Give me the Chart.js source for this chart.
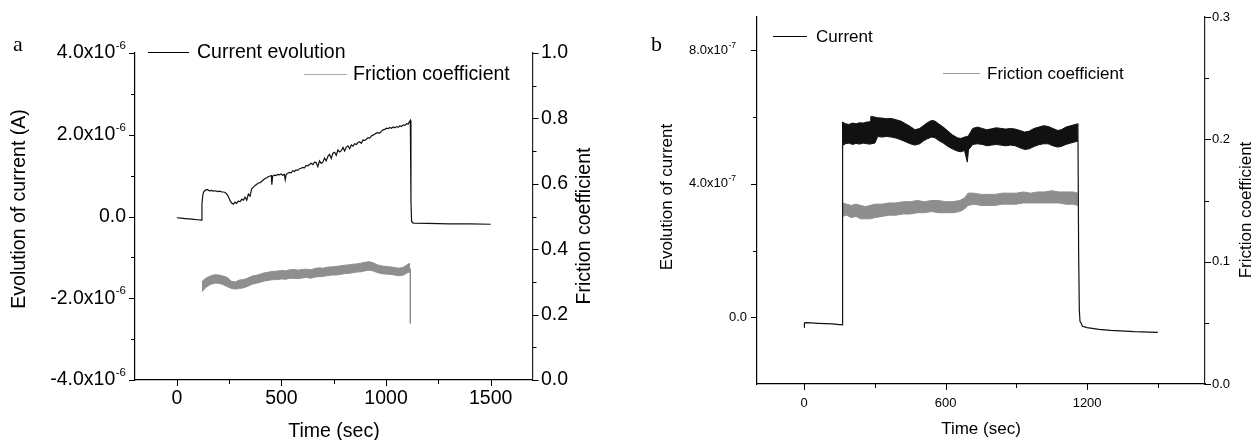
<!doctype html>
<html>
<head>
<meta charset="utf-8">
<title>Current and friction coefficient</title>
<script src="https://cdn.jsdelivr.net/npm/chart.js"></script>
<style>
  body { margin: 0; background: #fff; }
  #wrap { position: relative; width: 1255px; height: 440px; overflow: hidden; font-family: 'Liberation Sans', Arial, sans-serif; color: #000; }
  canvas { position: absolute; top: 0; }
  .tag { position: absolute; font-family: 'Liberation Serif', 'Times New Roman', serif; font-size: 22px; line-height: 1; }
  .line { position: absolute; height: 0; border-top: 1px solid #000; }
  .txt { position: absolute; line-height: 1; white-space: nowrap; transform: translateY(-50%); }
</style>
</head>
<body>
<div id="wrap">
  <canvas id="chartA" width="625" height="440" style="left:0"></canvas>
  <canvas id="chartB" width="625" height="440" style="left:630px"></canvas>

  <div class="tag" style="left:13px;top:33px">a</div>
  <div class="line" style="left:148px;top:52px;width:41px"></div>
  <div class="txt" style="left:197px;top:52px;font-size:19.5px">Current evolution</div>
  <div class="line" style="left:304px;top:74px;width:43px;border-color:#aaa"></div>
  <div class="txt" style="left:353px;top:74px;font-size:19.5px">Friction coefficient</div>

  <div class="tag" style="left:651px;top:33px">b</div>
  <div class="line" style="left:773px;top:36px;width:34px"></div>
  <div class="txt" style="left:816px;top:36px;font-size:17px">Current</div>
  <div class="line" style="left:943px;top:73px;width:37px;border-color:#999"></div>
  <div class="txt" style="left:987px;top:73px;font-size:17px">Friction coefficient</div>
</div>

<script>
// ---------- panel a data ----------
// current in microamps
const timeA = [0, 20, 40, 60, 80, 100, 118, 120, 124, 128, 135, 145, 155, 165, 175, 185, 195, 205, 215, 225,
  235, 245, 255, 262, 270, 278, 286, 294, 302, 310, 318, 326, 334, 342, 350, 358, 366, 374, 382, 390,
  398, 406, 414, 422, 430, 438, 446, 452, 454, 458, 466, 474, 482, 490, 498, 506, 514, 518, 522, 530,
  538, 546, 554, 562, 570, 578, 586, 594, 602, 610, 618, 626, 634, 642, 650, 658, 666, 674, 682, 690,
  698, 706, 714, 722, 730, 738, 746, 754, 762, 770, 778, 786, 794, 802, 810, 818, 826, 834, 842, 850,
  858, 866, 874, 882, 890, 898, 906, 914, 922, 930, 938, 946, 954, 962, 970, 978, 986, 994, 1002, 1010,
  1018, 1026, 1034, 1042, 1050, 1058, 1066, 1074, 1082, 1090, 1098, 1106, 1112, 1116, 1119, 1122, 1130, 1200,
  1300, 1400, 1500];
const currentA = [-0.03, -0.04, -0.05, -0.06, -0.07, -0.08, -0.09, 0.30, 0.52, 0.60, 0.64, 0.66, 0.63, 0.64, 0.62, 0.63, 0.61, 0.62, 0.60, 0.60,
  0.57, 0.50, 0.38, 0.33, 0.30, 0.35, 0.32, 0.38, 0.36, 0.42, 0.40, 0.47, 0.40, 0.55, 0.50, 0.68, 0.72, 0.76, 0.79, 0.82,
  0.83, 0.86, 0.90, 0.93, 0.95, 0.98, 0.99, 1.00, 0.78, 0.99, 1.01, 1.00, 1.03, 1.02, 1.04, 1.01, 1.03, 0.90, 1.02, 1.06,
  1.08, 1.07, 1.12, 1.10, 1.14, 1.13, 1.17, 1.18, 1.20, 1.19, 1.25, 1.24, 1.27, 1.30, 1.27, 1.33, 1.32, 1.22, 1.36, 1.30,
  1.33, 1.43, 1.36, 1.47, 1.52, 1.42, 1.55, 1.57, 1.50, 1.63, 1.58, 1.61, 1.69, 1.60, 1.70, 1.73, 1.66, 1.75, 1.72, 1.78,
  1.76, 1.81, 1.83, 1.79, 1.87, 1.86, 1.89, 1.93, 1.92, 1.97, 1.99, 2.02, 2.04, 2.05, 2.04, 2.09, 2.12, 2.13, 2.16, 2.15,
  2.18, 2.16, 2.19, 2.17, 2.20, 2.18, 2.22, 2.20, 2.24, 2.23, 2.27, 2.26, 2.32, 2.35, 0.40, -0.12, -0.16, -0.17,
  -0.18, -0.18, -0.19];

// friction coefficient band (upper / lower edge of the noisy trace)
const fricTimeA = [120, 126, 140, 160, 180, 200, 220, 240, 260, 280, 300, 320, 340, 360, 380, 400, 420, 440, 460, 480,
  500, 520, 540, 560, 580, 600, 620, 640, 660, 680, 700, 720, 740, 760, 780, 800, 820, 840, 860, 880,
  900, 920, 940, 960, 980, 1000, 1020, 1040, 1060, 1080, 1100, 1110, 1115];
const fricHighA = [0.300, 0.305, 0.312, 0.318, 0.322, 0.321, 0.318, 0.314, 0.302, 0.300, 0.306, 0.307, 0.312, 0.318, 0.320, 0.324, 0.328, 0.330, 0.332, 0.333,
  0.335, 0.334, 0.337, 0.338, 0.336, 0.338, 0.339, 0.337, 0.341, 0.343, 0.342, 0.345, 0.346, 0.347, 0.349, 0.351, 0.352, 0.354, 0.355, 0.357,
  0.360, 0.362, 0.358, 0.352, 0.349, 0.347, 0.346, 0.344, 0.342, 0.344, 0.352, 0.356, 0.355];
const fricLowA = [0.270, 0.274, 0.284, 0.292, 0.296, 0.296, 0.292, 0.286, 0.280, 0.278, 0.280, 0.282, 0.287, 0.293, 0.296, 0.299, 0.303, 0.305, 0.307, 0.307,
  0.309, 0.308, 0.311, 0.311, 0.310, 0.312, 0.314, 0.311, 0.315, 0.316, 0.317, 0.319, 0.321, 0.321, 0.323, 0.325, 0.326, 0.328, 0.330, 0.331,
  0.334, 0.336, 0.333, 0.328, 0.325, 0.324, 0.323, 0.321, 0.319, 0.320, 0.327, 0.330, 0.330];
const fricDropTimeA = [1116, 1116];
const fricDropA = [0.340, 0.173];

// ---------- panel b data ----------
// current in units of 1e-7 A
const preTimeB = [0, 1, 4, 30, 60, 90, 120, 150, 163, 163];
const preCurrentB = [-0.30, -0.18, -0.16, -0.17, -0.18, -0.19, -0.20, -0.22, -0.23, 5.85];
const bandTimeB = [163, 175, 190, 205, 220, 235, 250, 265, 280, 283, 300, 312, 330, 350, 370, 390, 410, 430, 450, 470,
  490, 505, 520, 540, 555, 570, 590, 610, 630, 650, 665, 680, 692, 697, 715, 735, 755, 775, 795, 815,
  835, 855, 875, 895, 915, 935, 955, 975, 995, 1015, 1035, 1055, 1075, 1090, 1110, 1130, 1150, 1161];
const bandHighB = [5.85, 5.80, 5.78, 5.82, 5.80, 5.83, 5.82, 5.85, 5.86, 6.02, 6.00, 5.98, 5.97, 5.95, 5.96, 5.92, 5.88, 5.80, 5.72, 5.62,
  5.66, 5.74, 5.82, 5.90, 5.88, 5.80, 5.70, 5.58, 5.46, 5.38, 5.36, 5.40, 5.42, 5.45, 5.66, 5.70, 5.66, 5.62, 5.65, 5.68,
  5.66, 5.64, 5.66, 5.64, 5.60, 5.55, 5.58, 5.66, 5.70, 5.74, 5.72, 5.66, 5.60, 5.62, 5.70, 5.74, 5.78, 5.80];
const bandLowB = [5.15, 5.20, 5.22, 5.18, 5.21, 5.19, 5.22, 5.20, 5.19, 5.20, 5.22, 5.42, 5.40, 5.42, 5.40, 5.37, 5.32, 5.26, 5.20, 5.16,
  5.20, 5.28, 5.34, 5.40, 5.38, 5.30, 5.22, 5.12, 5.04, 4.98, 4.96, 5.00, 4.65, 5.02, 5.18, 5.20, 5.18, 5.14, 5.16, 5.18,
  5.16, 5.14, 5.16, 5.14, 5.08, 5.03, 5.05, 5.12, 5.17, 5.20, 5.20, 5.14, 5.10, 5.12, 5.18, 5.22, 5.26, 5.28];
const postTimeB = [1161, 1164, 1167, 1170, 1175, 1180, 1200, 1250, 1300, 1400, 1500];
const postCurrentB = [5.80, 2.00, 0.20, -0.13, -0.18, -0.27, -0.31, -0.36, -0.39, -0.43, -0.45];

const fricTimeB = [163, 180, 200, 220, 240, 260, 280, 300, 330, 360, 390, 420, 450, 480, 510, 540, 570, 600, 630, 660,
  680, 695, 720, 750, 780, 810, 840, 870, 900, 930, 960, 990, 1020, 1050, 1080, 1110, 1140, 1161];
const fricHighB = [0.148, 0.147, 0.146, 0.147, 0.146, 0.145, 0.146, 0.147, 0.147, 0.148, 0.148, 0.149, 0.149, 0.150, 0.149, 0.150, 0.150, 0.149, 0.149, 0.150,
  0.152, 0.156, 0.156, 0.155, 0.155, 0.155, 0.156, 0.156, 0.156, 0.157, 0.156, 0.157, 0.157, 0.158, 0.157, 0.157, 0.157, 0.156];
const fricLowB = [0.137, 0.138, 0.136, 0.137, 0.135, 0.135, 0.135, 0.136, 0.137, 0.138, 0.138, 0.139, 0.139, 0.140, 0.140, 0.141, 0.140, 0.140, 0.140, 0.141,
  0.143, 0.146, 0.147, 0.146, 0.146, 0.146, 0.147, 0.147, 0.147, 0.148, 0.148, 0.148, 0.148, 0.148, 0.148, 0.147, 0.147, 0.146];

// ---------- ticks ----------
const xTicksA = [0, 500, 1000, 1500];
const xMinorA = [250, 750, 1250];
const leftTicksA = [-4e-6, -2e-6, 0, 2e-6, 4e-6];
const leftLabelsA = [['-4.0x10', '-6'], ['-2.0x10', '-6'], ['0.0', ''], ['2.0x10', '-6'], ['4.0x10', '-6']];
const leftMinorA = [-3e-6, -1e-6, 1e-6, 3e-6];
const rightTicksA = [0, 0.2, 0.4, 0.6, 0.8, 1.0];
const rightLabelsA = ['0.0', '0.2', '0.4', '0.6', '0.8', '1.0'];
const rightMinorA = [0.1, 0.3, 0.5, 0.7, 0.9];

const xTicksB = [0, 600, 1200];
const xMinorB = [300, 900, 1500];
const leftTicksB = [0, 4e-7, 8e-7];
const leftLabelsB = [['0.0', ''], ['4.0x10', '-7'], ['8.0x10', '-7']];
const leftMinorB = [2e-7, 6e-7];
const rightTicksB = [0, 0.1, 0.2, 0.3];
const rightLabelsB = ['0.0', '0.1', '0.2', '0.3'];
const rightMinorB = [0.05, 0.15, 0.25];

const FONT = "'Liberation Sans', Arial, sans-serif";
const BLACK = '#111';
const GREY = '#8e8e8e';

function pts(xs, ys, k) {
  return xs.map((x, i) => ({ x: x, y: ys[i] * k }));
}

// tick marks, tick labels and axis titles drawn against the chart's own scales
function makeDecor(s) {
  return {
    id: 'decor',
    afterDraw(chart) {
      const ctx = chart.ctx;
      const sx = chart.scales.x, sl = chart.scales.y, sr = chart.scales.y1;
      const r = v => Math.round(v) + 0.5;
      ctx.save();
      ctx.strokeStyle = '#000';
      ctx.lineWidth = 1;
      const markX = (v, len) => { const p = r(sx.getPixelForValue(v)); ctx.beginPath(); ctx.moveTo(p, sx.top); ctx.lineTo(p, sx.top + len); ctx.stroke(); };
      const markL = (v, len) => { const p = r(sl.getPixelForValue(v)); ctx.beginPath(); ctx.moveTo(sl.right, p); ctx.lineTo(sl.right - len, p); ctx.stroke(); };
      const markR = (v, len) => { const p = r(sr.getPixelForValue(v)); ctx.beginPath(); ctx.moveTo(sr.left, p); ctx.lineTo(sr.left + len, p); ctx.stroke(); };
      s.xTicks.forEach(v => markX(v, s.major));
      s.xMinor.forEach(v => markX(v, s.minor));
      s.lTicks.forEach(v => markL(v, s.major));
      s.lMinor.forEach(v => markL(v, s.minor));
      s.rTicks.forEach(v => markR(v, s.major));
      s.rMinor.forEach(v => markR(v, s.minor));

      ctx.fillStyle = '#000';
      ctx.font = s.tickSize + 'px ' + FONT;
      ctx.textBaseline = 'middle';
      ctx.textAlign = 'center';
      s.xTicks.forEach(v => ctx.fillText(String(v), sx.getPixelForValue(v), sx.top + s.xGap));
      ctx.textAlign = 'left';
      s.rTicks.forEach((v, i) => ctx.fillText(s.rLabels[i], sr.left + s.rGap, sr.getPixelForValue(v)));
      ctx.textAlign = 'right';
      s.lTicks.forEach((v, i) => {
        const m = s.lLabels[i][0], e = s.lLabels[i][1];
        const y = sl.getPixelForValue(v);
        if (e) {
          ctx.font = s.expSize + 'px ' + FONT;
          const ew = ctx.measureText(e).width;
          ctx.fillText(e, sl.right - s.lGapExp, y - s.expRise);
          ctx.font = s.tickSize + 'px ' + FONT;
          ctx.fillText(m, sl.right - s.lGapExp - ew - 0.5, y);
        } else {
          ctx.fillText(m, sl.right - s.lGap, y);
        }
      });

      ctx.textAlign = 'center';
      s.titles.forEach(t => {
        ctx.save();
        ctx.translate(t.x, t.y);
        if (t.rot) ctx.rotate(-Math.PI / 2);
        ctx.font = s.titleSize + 'px ' + FONT;
        ctx.fillText(t.text, 0, 0);
        ctx.restore();
      });
      ctx.restore();
    }
  };
}

function baseOptions(xMin, xMax, yMin, yMax, rMin, rMax, box) {
  return {
    responsive: false,
    animation: false,
    events: [],
    layout: { padding: { top: box.top, left: 0, right: 0, bottom: 0 } },
    plugins: { legend: { display: false }, tooltip: { enabled: false } },
    elements: { point: { radius: 0 }, line: { tension: 0 } },
    scales: {
      x: {
        type: 'linear', min: xMin, max: xMax,
        grid: { display: false }, ticks: { display: false },
        border: { display: true, color: '#000', width: 1.2 },
        afterFit: sc => { sc.height = box.xh; }
      },
      y: {
        type: 'linear', position: 'left', min: yMin, max: yMax,
        grid: { display: false }, ticks: { display: false },
        border: { display: true, color: '#000', width: 1.2 },
        afterFit: sc => { sc.width = box.lw; }
      },
      y1: {
        type: 'linear', position: 'right', min: rMin, max: rMax,
        grid: { display: false }, ticks: { display: false },
        border: { display: true, color: '#222', width: 1.2 },
        afterFit: sc => { sc.width = box.rw; }
      }
    }
  };
}

new Chart(document.getElementById('chartA'), {
  type: 'line',
  data: {
    datasets: [
      { data: pts(timeA, currentA, 1e-6), yAxisID: 'y', borderColor: BLACK, borderWidth: 1.2, fill: false },
      { data: pts(fricTimeA, fricHighA, 1), yAxisID: 'y1', borderColor: GREY, borderWidth: 1, fill: false },
      { data: pts(fricTimeA, fricLowA, 1), yAxisID: 'y1', borderColor: GREY, borderWidth: 1, backgroundColor: GREY, fill: '-1' },
      { data: pts(fricDropTimeA, fricDropA, 1), yAxisID: 'y1', borderColor: GREY, borderWidth: 1, fill: false }
    ]
  },
  options: baseOptions(-200, 1700, -4e-6, 4e-6, 0, 1, { top: 53, xh: 60, lw: 135, rw: 92.5 }),
  plugins: [makeDecor({
    xTicks: xTicksA, xMinor: xMinorA, lTicks: leftTicksA, lLabels: leftLabelsA, lMinor: leftMinorA,
    rTicks: rightTicksA, rLabels: rightLabelsA, rMinor: rightMinorA,
    major: 6, minor: 4, tickSize: 19.5, expSize: 11.5, expRise: 7,
    xGap: 19, rGap: 8.5, lGap: 9, lGapExp: 9, titleSize: 19.5,
    titles: [
      { text: 'Evolution of current (A)', x: 20, y: 209, rot: true },
      { text: 'Friction coefficient', x: 585, y: 226, rot: true },
      { text: 'Time (sec)', x: 334, y: 432 }
    ]
  })]
});

new Chart(document.getElementById('chartB'), {
  type: 'line',
  data: {
    datasets: [
      { data: pts(preTimeB, preCurrentB, 1e-7), yAxisID: 'y', borderColor: BLACK, borderWidth: 1.2, fill: false },
      { data: pts(bandTimeB, bandHighB, 1e-7), yAxisID: 'y', borderColor: BLACK, borderWidth: 1, fill: false },
      { data: pts(bandTimeB, bandLowB, 1e-7), yAxisID: 'y', borderColor: BLACK, borderWidth: 1, backgroundColor: BLACK, fill: '-1' },
      { data: pts(postTimeB, postCurrentB, 1e-7), yAxisID: 'y', borderColor: BLACK, borderWidth: 1.2, fill: false },
      { data: pts(fricTimeB, fricHighB, 1), yAxisID: 'y1', borderColor: GREY, borderWidth: 1, fill: false },
      { data: pts(fricTimeB, fricLowB, 1), yAxisID: 'y1', borderColor: GREY, borderWidth: 1, backgroundColor: GREY, fill: '-1' }
    ]
  },
  options: baseOptions(-200, 1700, -2e-7, 9e-7, 0, 0.3, { top: 17, xh: 56, lw: 127, rw: 50 }),
  plugins: [makeDecor({
    xTicks: xTicksB, xMinor: xMinorB, lTicks: leftTicksB, lLabels: leftLabelsB, lMinor: leftMinorB,
    rTicks: rightTicksB, rLabels: rightLabelsB, rMinor: rightMinorB,
    major: 6, minor: 4, tickSize: 13, expSize: 8.5, expRise: 5,
    xGap: 19, rGap: 7, lGap: 10, lGapExp: 21, titleSize: 17,
    titles: [
      { text: 'Evolution of current', x: 37, y: 197, rot: true },
      { text: 'Friction coefficient', x: 616, y: 210, rot: true },
      { text: 'Time (sec)', x: 351, y: 429 }
    ]
  })]
});
</script>
</body>
</html>
